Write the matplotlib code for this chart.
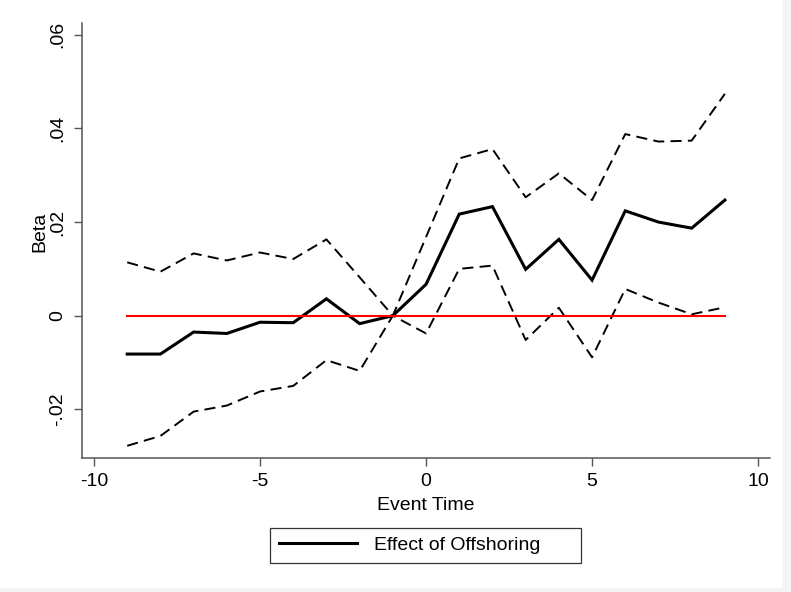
import matplotlib.pyplot as plt
import numpy as np
from matplotlib.patches import Rectangle

plt.rcParams['font.family'] = ['Liberation Sans', 'DejaVu Sans']
plt.rcParams['lines.scale_dashes'] = False

event_time = np.arange(-9, 10)

# point estimates and 95% bands
beta = [-0.0082, -0.0082, -0.0035, -0.0038, -0.0014, -0.0015, 0.0036, -0.0017, 0.0,
        0.0067, 0.0217, 0.0233, 0.0099, 0.0163, 0.0076, 0.0224, 0.0200, 0.0187, 0.0247]
upper = [0.0114, 0.0094, 0.0133, 0.0118, 0.0135, 0.0121, 0.0163, 0.0082, 0.0,
         0.0168, 0.0336, 0.0356, 0.0253, 0.0304, 0.0247, 0.0388, 0.0372, 0.0374, 0.0474]
lower = [-0.0278, -0.0257, -0.0205, -0.0192, -0.0162, -0.0150, -0.0095, -0.0118, 0.0,
         -0.0038, 0.0100, 0.0107, -0.0052, 0.0017, -0.0089, 0.0057, 0.0028, 0.0003, 0.0018]
zero = [0.0] * len(event_time)

xticks = [-10, -5, 0, 5, 10]
yticks = [-0.02, 0, 0.02, 0.04, 0.06]
ylabels = ['-.02', '0', '.02', '.04', '.06']

fig = plt.figure(figsize=(7.91, 5.92), dpi=100)
ax = fig.add_axes([0.1033, 0.2264, 0.8702, 0.7353])

line, = ax.plot(event_time, beta, color='black', lw=2.2, solid_joinstyle='miter',
                label='Effect of Offshoring')
ax.plot(event_time, upper, color='black', lw=1.4, dashes=(8, 4.5))
ax.plot(event_time, lower, color='black', lw=1.4, dashes=(8, 4.5))
ax.plot(event_time, zero, color='#ff0000', lw=1.5)

ax.set_xlim(-10.37, 10.36)
ax.set_ylim(-0.0304, 0.0626)
ax.set_xticks(xticks)
ax.set_xticklabels([str(t) for t in xticks])
ax.set_yticks(yticks)
ax.set_yticklabels(ylabels, rotation=90, va='center')

for side in ['top', 'right']:
    ax.spines[side].set_visible(False)
for side in ['left', 'bottom']:
    ax.spines[side].set_color('#555555')
    ax.spines[side].set_linewidth(1.1)
ax.tick_params(axis='both', direction='out', length=6, width=1.0, color='#555555',
               labelsize=14, pad=5)

ax.set_xlabel('Event Time', fontsize=14, labelpad=5)
ax.set_ylabel('Beta', fontsize=14)
ax.yaxis.set_label_coords(-0.048, 0.52)

# legend box stretched across the middle under the x label
leg = fig.legend(handles=[line], loc='lower left',
                 bbox_to_anchor=(270 / 791, 29 / 592, 311 / 791, 38 / 592),
                 mode='expand', fontsize=14, frameon=True, fancybox=False,
                 handlelength=4.0, handletextpad=0.9, borderpad=0.45,
                 borderaxespad=0, edgecolor='black')
leg.get_frame().set_linewidth(0.9)

# faint grey border along right and bottom edges
fig.add_artist(Rectangle((0.99, 0), 0.01, 1, transform=fig.transFigure,
                         color='#f4f4f4', zorder=-1))
fig.add_artist(Rectangle((0, 0), 1, 0.006, transform=fig.transFigure,
                         color='#f4f4f4', zorder=-1))

fig.savefig('out.png', dpi=100)
